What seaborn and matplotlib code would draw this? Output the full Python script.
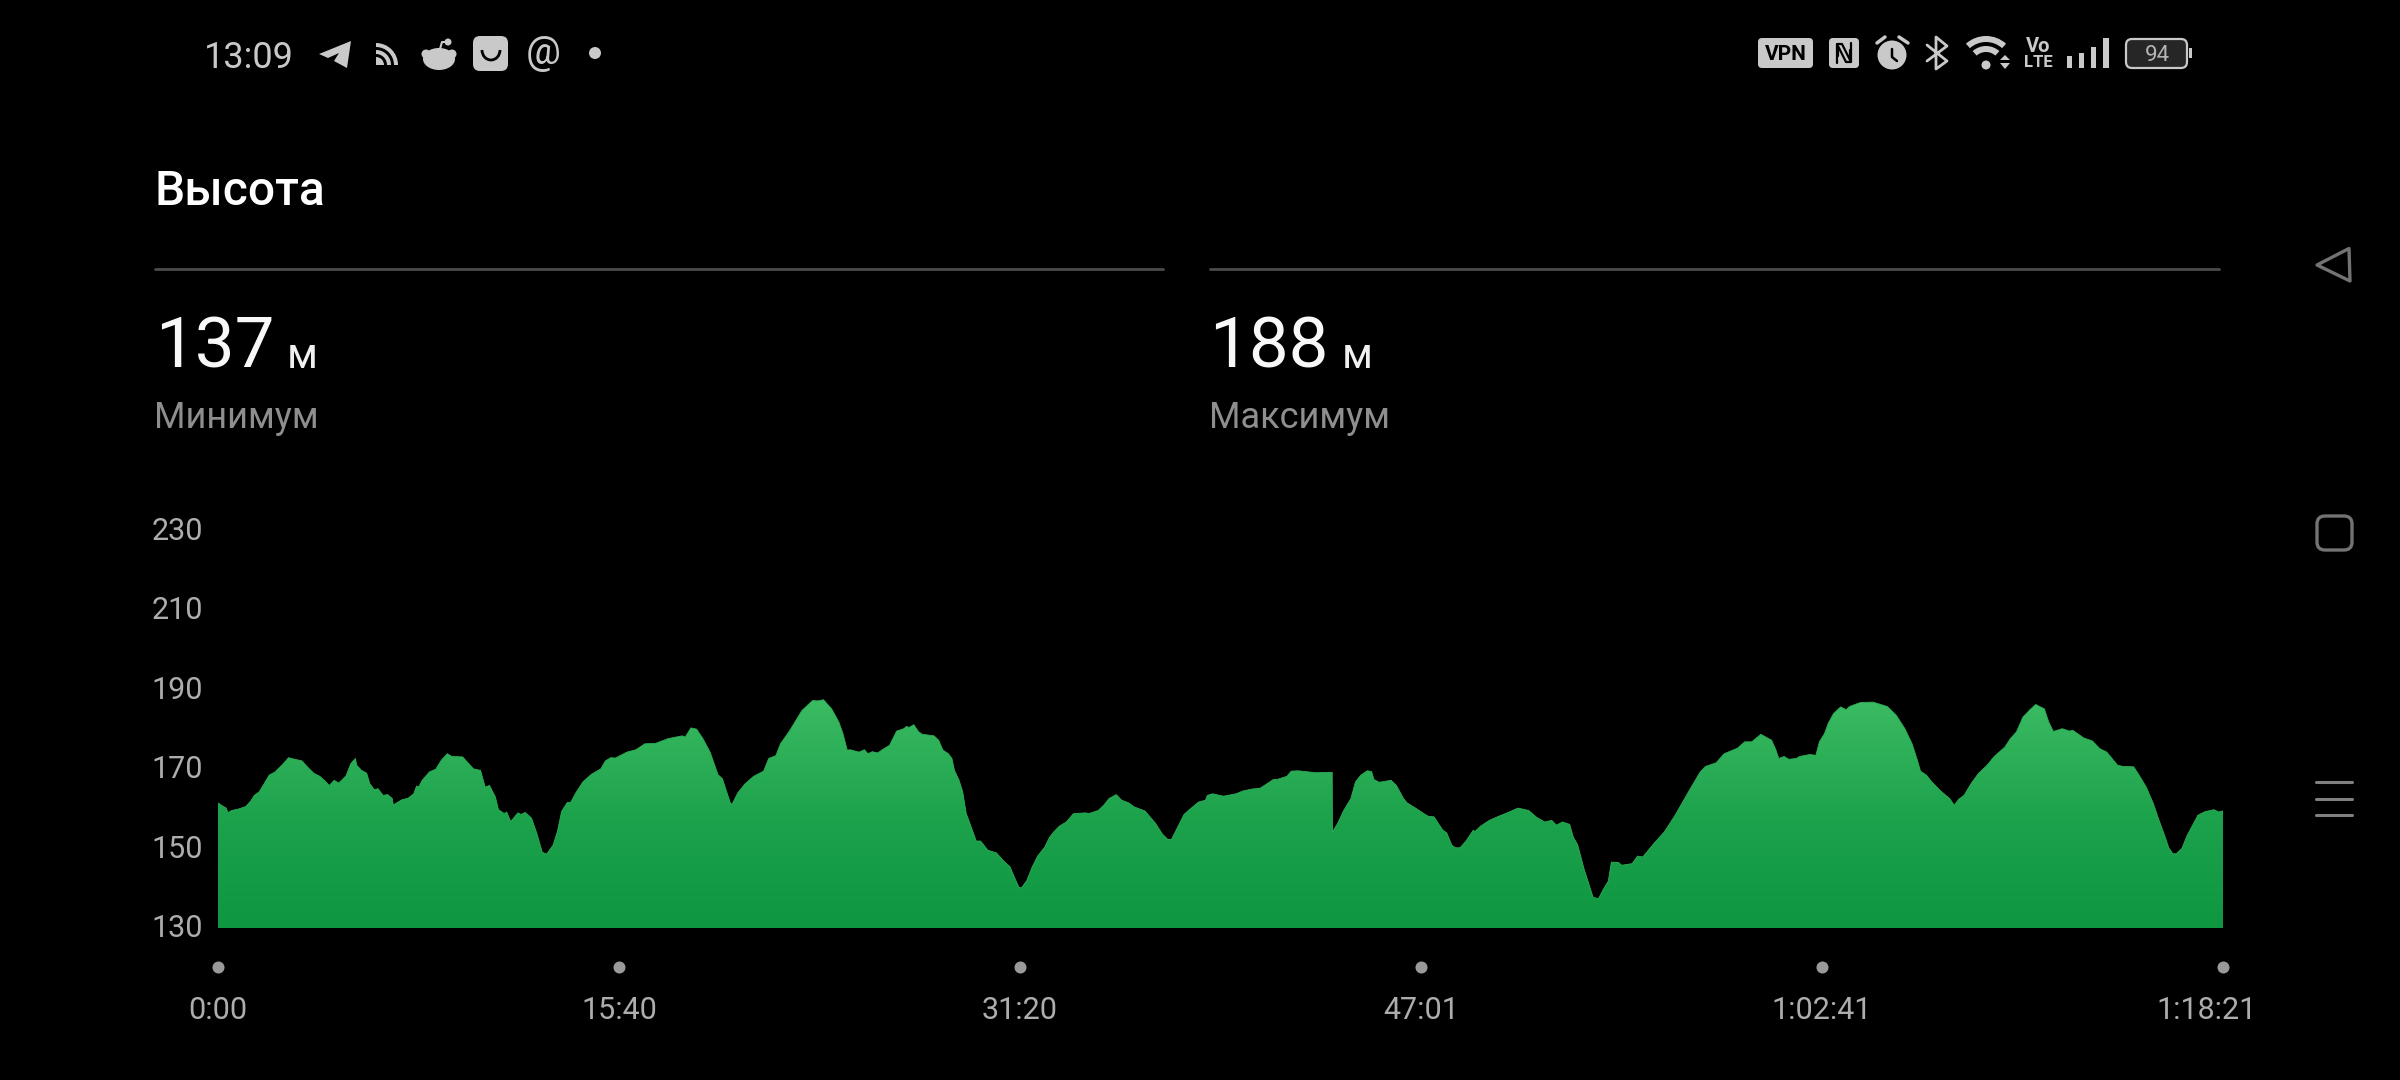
import numpy as np
import pandas as pd
import seaborn as sns
import matplotlib.pyplot as plt
from matplotlib.colors import LinearSegmentedColormap
from matplotlib.patches import Arc, Circle, Ellipse, FancyBboxPatch, Polygon, Wedge
from matplotlib.transforms import ScaledTranslation

# altitude trace (time in minutes, altitude in metres)
minutes = [
    0.00, 0.14, 0.32, 0.39, 0.53, 0.77, 1.09, 1.28, 1.42, 1.61, 1.79, 2.00, 2.23, 2.51, 2.76, 2.93, 3.28, 3.49, 3.74, 3.98,
    4.19, 4.35, 4.54, 4.72, 5.00, 5.19, 5.37, 5.42, 5.61, 5.81, 5.93, 6.11, 6.25, 6.45, 6.63, 6.81, 6.85, 7.01, 7.19, 7.43,
    7.65, 7.76, 7.84, 7.98, 8.26, 8.51, 8.72, 8.96, 9.14, 9.56, 9.70, 9.98, 10.26, 10.44, 10.61, 10.84, 10.96, 11.19, 11.28, 11.44,
    11.72, 11.84, 12.00, 12.25, 12.46, 12.67, 12.84, 13.09, 13.26, 13.43, 13.65, 13.79, 13.98, 14.26, 14.59, 14.96, 15.14, 15.35, 15.53, 15.98,
    16.33, 16.68, 17.10, 17.59, 18.14, 18.26, 18.48, 18.70, 18.95, 19.23, 19.54, 19.71, 20.03, 20.10, 20.31, 20.58, 20.93, 21.32, 21.52, 21.80,
    21.98, 22.33, 22.82, 23.24, 23.45, 23.66, 23.98, 24.26, 24.42, 24.59, 24.70, 25.05, 25.26, 25.40, 25.57, 25.78, 26.03, 26.24, 26.52, 26.80,
    26.91, 27.00, 27.19, 27.38, 27.52, 27.98, 28.16, 28.33, 28.54, 28.68, 28.78, 28.96, 29.10, 29.24, 29.34, 29.63, 29.80, 30.08, 30.42, 30.70,
    30.95, 31.12, 31.30, 31.40, 31.61, 31.82, 32.03, 32.31, 32.49, 32.66, 32.87, 33.15, 33.43, 33.91, 34.03, 34.40, 34.61, 34.82, 35.10, 35.31,
    35.59, 35.80, 36.22, 36.63, 36.91, 37.12, 37.26, 37.47, 37.75, 37.96, 38.31, 38.59, 38.66, 38.87, 39.29, 39.78, 40.05, 40.40, 40.72, 40.89,
    41.24, 41.38, 41.77, 41.94, 42.21, 42.91, 43.33, 43.54, 43.55, 43.75, 43.99, 44.27, 44.45, 44.66, 44.91, 45.08, 45.17, 45.38, 45.84, 46.05,
    46.33, 46.47, 46.82, 47.17, 47.31, 47.52, 47.73, 47.87, 48.01, 48.22, 48.36, 48.54, 48.77, 49.05, 49.12, 49.33, 49.68, 50.03, 50.38, 50.80,
    51.22, 51.50, 51.84, 52.12, 52.30, 52.54, 52.82, 52.96, 53.13, 53.38, 53.73, 53.94, 54.15, 54.33, 54.45, 54.73, 54.85, 55.26, 55.47, 55.68,
    56.10, 56.52, 56.94, 57.50, 57.92, 58.13, 58.54, 58.86, 59.38, 59.66, 59.94, 60.29, 60.71, 60.87, 60.99, 61.20, 61.38, 61.68, 61.80, 62.21,
    62.44, 62.58, 62.78, 62.92, 63.13, 63.41, 63.62, 63.76, 64.18, 64.67, 65.23, 65.58, 65.92, 66.20, 66.41, 66.53, 66.76, 66.97, 67.32, 67.67,
    67.85, 68.02, 68.23, 68.51, 68.79, 69.13, 69.41, 69.83, 70.04, 70.28, 70.53, 70.81, 71.03, 71.37, 71.54, 71.72, 72.07, 72.35, 72.48, 72.90,
    73.25, 73.53, 73.81, 74.23, 74.44, 74.86, 75.07, 75.35, 75.63, 75.83, 76.09, 76.23, 76.39, 76.53, 76.74, 76.95, 77.37, 77.65, 78.00, 78.18,
    78.35,
]
altitude = [
    161.5, 160.9, 160.2, 159.0, 159.6, 159.9, 160.6, 162.0, 163.4, 164.3, 166.2, 168.5, 169.3, 171.1, 172.9, 172.6, 172.1, 170.6, 169.0, 168.2,
    167.0, 165.9, 167.2, 166.5, 168.3, 171.4, 172.7, 171.0, 169.7, 169.0, 166.4, 164.8, 165.1, 163.4, 163.6, 162.6, 161.0, 161.6, 162.3, 162.7,
    163.8, 165.8, 165.5, 167.2, 169.3, 170.0, 172.2, 173.9, 173.2, 173.1, 172.1, 170.1, 169.7, 165.5, 165.9, 163.0, 159.8, 158.8, 159.2, 156.8,
    159.0, 158.6, 159.1, 157.7, 153.8, 149.1, 148.6, 150.8, 154.2, 159.4, 161.6, 161.7, 164.0, 166.8, 168.7, 170.1, 172.1, 172.9, 172.8, 174.3,
    174.9, 176.4, 176.5, 177.7, 178.4, 178.1, 180.4, 180.1, 177.7, 174.3, 168.6, 167.6, 161.3, 161.3, 164.0, 166.2, 168.2, 169.5, 172.7, 173.4,
    176.4, 179.6, 184.8, 187.3, 187.2, 187.5, 185.2, 181.9, 179.0, 174.8, 174.9, 174.3, 174.9, 173.9, 174.4, 174.1, 175.2, 176.0, 179.6, 180.2,
    180.8, 180.5, 181.2, 179.4, 178.8, 178.4, 177.3, 174.8, 173.9, 172.7, 169.7, 167.2, 164.3, 158.8, 157.1, 151.9, 151.9, 149.6, 148.9, 146.9,
    145.4, 142.8, 140.2, 140.1, 142.0, 145.4, 148.1, 150.4, 152.8, 154.2, 155.6, 156.7, 158.8, 159.0, 158.8, 159.6, 160.9, 162.6, 163.6, 162.2,
    161.5, 160.5, 159.5, 156.4, 153.6, 152.3, 152.3, 155.0, 158.6, 159.8, 161.7, 162.2, 163.4, 163.8, 163.2, 163.8, 164.5, 165.0, 165.2, 165.9,
    167.4, 167.4, 168.2, 169.5, 169.6, 169.1, 169.2, 169.2, 154.2, 156.3, 159.6, 162.6, 166.8, 168.5, 169.6, 169.4, 167.4, 166.7, 167.2, 165.9,
    162.6, 161.5, 160.1, 158.6, 158.1, 158.0, 155.9, 154.6, 154.0, 150.8, 150.2, 150.2, 151.9, 154.6, 154.3, 155.6, 157.1, 158.1, 159.0, 160.2,
    159.6, 158.0, 156.7, 157.1, 155.9, 156.7, 156.1, 152.9, 151.0, 144.9, 137.8, 137.3, 139.9, 141.8, 146.6, 146.5, 145.8, 146.2, 148.1, 147.9,
    151.2, 154.2, 158.4, 164.7, 169.3, 170.7, 171.6, 173.9, 175.3, 176.9, 176.9, 178.8, 177.3, 175.0, 172.7, 173.2, 172.5, 172.7, 173.2, 173.7,
    173.5, 176.9, 179.0, 181.5, 184.0, 185.7, 185.0, 185.8, 186.8, 186.9, 185.8, 183.6, 180.2, 176.4, 172.2, 169.5, 168.5, 166.8, 164.5, 162.6,
    160.9, 162.4, 163.4, 166.4, 168.9, 171.0, 173.2, 175.6, 177.7, 179.4, 183.1, 185.0, 186.3, 185.2, 181.9, 179.5, 180.2, 179.6, 179.8, 177.9,
    177.1, 175.2, 174.3, 171.0, 170.7, 170.6, 168.5, 165.5, 161.3, 157.5, 152.9, 150.2, 148.7, 148.7, 150.0, 153.3, 158.4, 159.3, 159.8, 159.2,
    159.5,
]
y_ticks = [130, 150, 170, 190, 210, 230]
x_ticks = [0, 15.67, 31.33, 47.02, 62.68, 78.35]
x_labels = ['0:00', '15:40', '31:20', '47:01', '1:02:41', '1:18:21']

sns.set_theme(style='dark', rc={'axes.facecolor': 'black', 'figure.facecolor': 'black'})
plt.rcParams['font.family'] = ['Roboto', 'DejaVu Sans']

df = pd.DataFrame({'minutes': minutes, 'altitude': altitude})

fig = plt.figure(figsize=(24, 10.8), dpi=100, facecolor='black')
ax = fig.add_axes([218 / 2400, 1 - 928 / 1080, 2005 / 2400, 397 / 1080])

# 1. the chart
sns.lineplot(data=df, x='minutes', y='altitude', color='#2fae58', linewidth=0.6,
             sort=False, errorbar=None, ax=ax)

## gradient fill, clipped to the area under the line
green = LinearSegmentedColormap.from_list('alt', ['#0e9640', '#1ea34d', '#3cbc63'])
area = ax.fill_between(df['minutes'], df['altitude'], 130, facecolor='none', edgecolor='none')
im = ax.imshow(np.linspace(1, 0, 256).reshape(-1, 1), cmap=green, aspect='auto',
               extent=[0, 78.35, 130, 188], zorder=1)
im.set_clip_path(area.get_paths()[0], transform=ax.transData)

ax.set_xlim(0, 78.35)
ax.set_ylim(130, 230)
ax.set_xlabel('')
ax.set_ylabel('')
ax.grid(False)
sns.despine(ax=ax, left=True, bottom=True)

ax.set_yticks(y_ticks)
ax.set_xticks(x_ticks, x_labels)
ax.tick_params(axis='y', length=0, pad=11, labelsize=22, labelcolor='#adadad')
ax.tick_params(axis='x', length=0, pad=49, labelsize=22, labelcolor='#adadad')

## y labels ride slightly above their values, last time label sits left of its dot
for lab in ax.get_yticklabels():
    lab.set_transform(lab.get_transform() + ScaledTranslation(0, 0.025, fig.dpi_scale_trans))
last = ax.get_xticklabels()[-1]
last.set_transform(last.get_transform() + ScaledTranslation(-0.16, 0, fig.dpi_scale_trans))

ax.scatter(x_ticks, [-0.098] * 6, s=75, color='#9a9a9a', linewidths=0,
           transform=ax.get_xaxis_transform(), clip_on=False)

# 2. screen furniture, in screen pixels
ui = fig.add_axes([0, 0, 1, 1], facecolor='none')
ui.set_xlim(0, 2400)
ui.set_ylim(1080, 0)
ui.axis('off')

## header texts
ui.text(154, 205, 'Высота', color='white', fontsize=34.5, fontweight='medium', va='baseline')
ui.plot([155, 1163], [269, 269], color='#4c4c4c', lw=2)
ui.plot([1210, 2219], [269, 269], color='#4c4c4c', lw=2)
ui.text(155, 368, '137', color='#f8f8f8', fontsize=51, va='baseline')
ui.text(287, 368, 'м', color='#f0f0f0', fontsize=30, va='baseline')
ui.text(154, 428, 'Минимум', color='#8e8e8e', fontsize=26, va='baseline')
ui.text(1209, 368, '188', color='#f8f8f8', fontsize=51, va='baseline')
ui.text(1342, 368, 'м', color='#f0f0f0', fontsize=30, va='baseline')
ui.text(1209, 428, 'Максимум', color='#8e8e8e', fontsize=26, va='baseline')

## status bar, left side
grey = '#c9c9c9'
ui.text(204, 54, '13:09', color=grey, fontsize=26, va='center_baseline')
ui.add_patch(Polygon([(319, 54), (351, 41), (347, 68), (334, 61), (339, 53), (328, 58)], color=grey, lw=0))
ui.add_patch(Wedge((376, 65), 8, 270, 360, color=grey, lw=0))
ui.add_patch(Wedge((376, 65), 15, 270, 360, width=4, color=grey, lw=0))
ui.add_patch(Wedge((376, 65), 22, 270, 360, width=4, color=grey, lw=0))
ui.add_patch(Ellipse((439, 59), 32, 22, color=grey, lw=0))
ui.add_patch(Circle((426, 54), 4.5, color=grey, lw=0))
ui.add_patch(Circle((452, 54), 4.5, color=grey, lw=0))
ui.plot([440, 442, 448], [49, 42, 42], color=grey, lw=1.5)
ui.add_patch(Circle((448, 42), 3.5, color=grey, lw=0))
ui.add_patch(FancyBboxPatch((479, 42), 23, 23, boxstyle='round,pad=6,rounding_size=7', color=grey, lw=0))
ui.add_patch(Arc((491, 50), 18, 20, theta1=0, theta2=180, color='black', lw=2))
ui.text(543, 53, '@', color=grey, fontsize=28, ha='center', va='center')
ui.add_patch(Circle((595, 53), 6, color=grey, lw=0))

## status bar, right side
ui.add_patch(FancyBboxPatch((1761, 41), 49, 24, boxstyle='round,pad=3,rounding_size=4', color=grey, lw=0))
ui.text(1785.5, 53, 'VPN', color='black', fontsize=15, fontweight='bold', ha='center', va='center_baseline')
ui.add_patch(FancyBboxPatch((1832, 41), 24, 24, boxstyle='round,pad=3,rounding_size=4', color=grey, lw=0))
ui.plot([1837, 1837, 1842, 1850, 1850], [63, 44, 44, 60, 50], color='black', lw=1.6)
ui.plot([1851, 1851, 1846, 1838, 1838], [43, 62, 62, 46, 56], color='black', lw=1.6)
ui.add_patch(Circle((1892, 55), 14.5, color=grey, lw=0))
ui.plot([1877, 1885], [43, 37], color=grey, lw=2.5)
ui.plot([1908, 1899], [43, 37], color=grey, lw=2.5)
ui.plot([1892, 1892, 1897], [49, 57, 61], color='black', lw=1.8)
ui.plot([1927, 1947, 1936, 1936, 1947, 1927], [45, 61, 69, 37, 46, 61], color=grey, lw=2)
ui.add_patch(Wedge((1986, 66), 30, 228, 312, width=6, color=grey, lw=0))
ui.add_patch(Wedge((1986, 66), 20, 228, 312, width=6, color=grey, lw=0))
ui.add_patch(Circle((1986, 65), 4.5, color=grey, lw=0))
ui.add_patch(Polygon([(2000, 60), (2010, 60), (2005, 55)], color=grey, lw=0))
ui.add_patch(Polygon([(2000, 63), (2010, 63), (2005, 69)], color=grey, lw=0))
ui.text(2038, 45, 'Vo', color=grey, fontsize=14.5, fontweight='bold', ha='center', va='center_baseline')
ui.text(2038, 61, 'LTE', color=grey, fontsize=12, fontweight='bold', ha='center', va='center_baseline')
for left, right, top in [(2067, 2072, 56), (2079, 2084, 53), (2091, 2096, 47), (2103, 2109, 38)]:
    ui.fill_between([left, right], top, 68, color=grey, lw=0)
ui.add_patch(FancyBboxPatch((2130, 43), 53, 21, boxstyle='round,pad=4,rounding_size=6',
                            facecolor='#262626', edgecolor=grey, lw=1.6))
ui.text(2157, 53, '94', color='#b4b4b4', fontsize=16, ha='center', va='center_baseline')
ui.fill_between([2189, 2192], 48, 58, color=grey, lw=0)

## navigation bar
nav = '#737373'
ui.add_patch(Polygon([(2317, 265), (2349, 248.5), (2350, 281)], facecolor='none', edgecolor=nav, lw=2.4, joinstyle='round'))
ui.add_patch(FancyBboxPatch((2324, 523), 21, 20, boxstyle='round,pad=7,rounding_size=8', facecolor='none', edgecolor=nav, lw=2.4))
for y in [782, 798.5, 815]:
    ui.plot([2316, 2352], [y, y], color='#808080', lw=2.2)

plt.savefig('out.png', dpi=100, facecolor='black')
